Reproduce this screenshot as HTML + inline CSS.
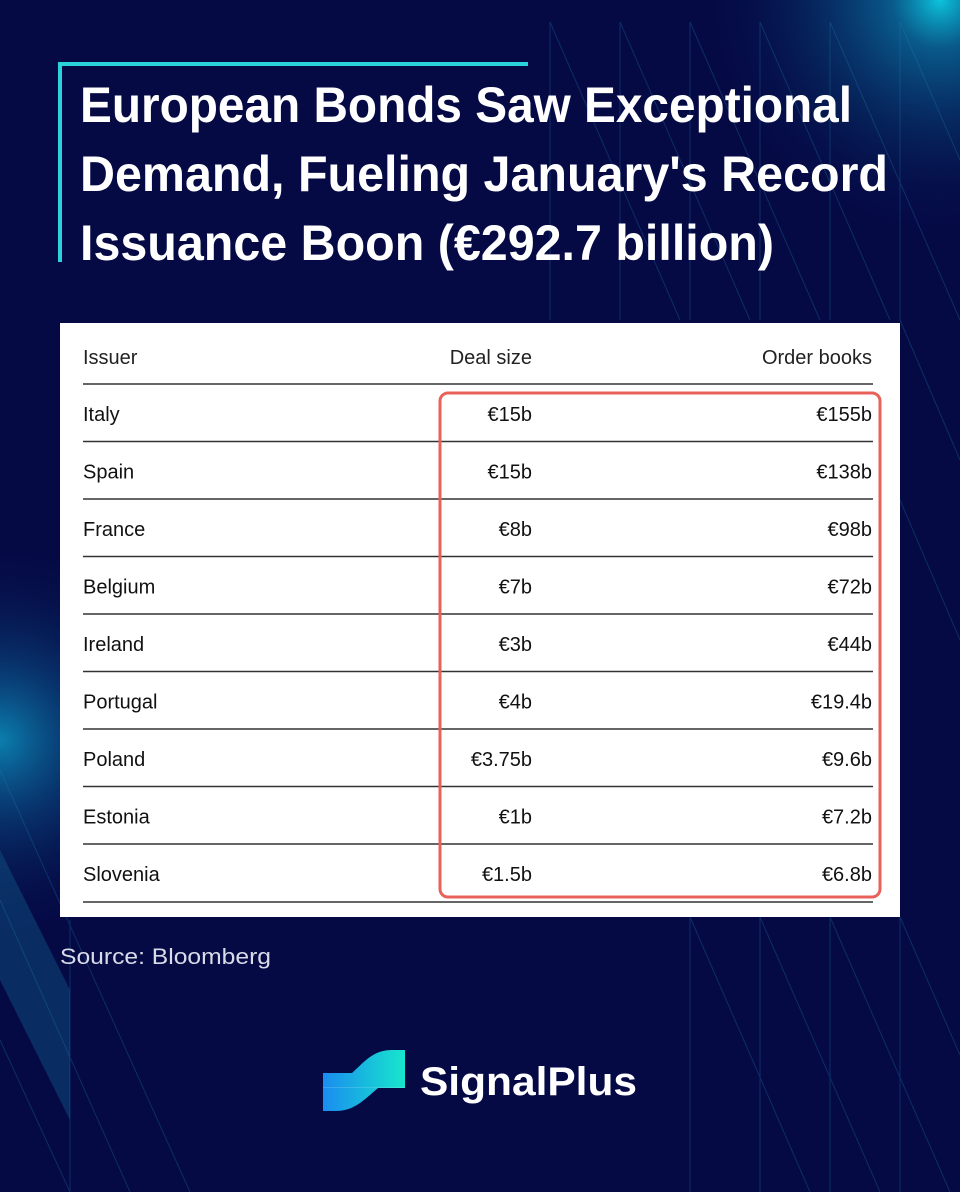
<!DOCTYPE html>
<html><head><meta charset="utf-8"><style>
html,body{margin:0;padding:0;}
body{width:960px;height:1192px;overflow:hidden;background:#050a45;position:relative;font-family:"Liberation Sans",sans-serif;}
svg{position:absolute;left:0;top:0;}
</style></head><body>
<svg width="960" height="1192" viewBox="0 0 960 1192">
<defs>
<radialGradient id="g1" cx="940" cy="0" r="240" gradientUnits="userSpaceOnUse">
<stop offset="0" stop-color="#0cc3dc"/><stop offset="0.2" stop-color="#0a6e9c" stop-opacity="0.8"/><stop offset="1" stop-color="#050a45" stop-opacity="0"/></radialGradient>
<radialGradient id="g2" cx="0" cy="740" r="200" gradientUnits="userSpaceOnUse">
<stop offset="0" stop-color="#0b7fae"/><stop offset="0.4" stop-color="#0a4a82" stop-opacity="0.6"/><stop offset="1" stop-color="#050a45" stop-opacity="0"/></radialGradient>
<linearGradient id="lg" x1="0" y1="0" x2="1" y2="0">
<stop offset="0" stop-color="#1a8cf0"/><stop offset="1" stop-color="#17e6cc"/></linearGradient>
</defs>
<rect width="960" height="1192" fill="#050a45"/>
<rect width="960" height="1192" fill="url(#g1)"/>
<rect width="960" height="1192" fill="url(#g2)"/>
<polygon points="0,850 70,990 70,1120 0,980" fill="#0d4f82" opacity="0.5"/>
<g stroke="#1f7fb0" stroke-width="1" opacity="0.3" fill="none">
<line x1="550" y1="22" x2="550" y2="320"/><line x1="550" y1="22" x2="680" y2="320"/>
<line x1="620" y1="22" x2="620" y2="320"/><line x1="620" y1="22" x2="750" y2="320"/>
<line x1="690" y1="22" x2="690" y2="320"/><line x1="690" y1="22" x2="820" y2="320"/>
<line x1="760" y1="22" x2="760" y2="320"/><line x1="760" y1="22" x2="890" y2="320"/>
<line x1="830" y1="22" x2="830" y2="320"/><line x1="830" y1="22" x2="960" y2="320"/>
<line x1="900" y1="22" x2="900" y2="320"/><line x1="900" y1="22" x2="960" y2="160"/>
<line x1="0" y1="770" x2="190" y2="1192"/><line x1="0" y1="900" x2="130" y2="1192"/>
<line x1="0" y1="1040" x2="70" y2="1192"/><line x1="70" y1="920" x2="70" y2="1192"/>
<line x1="690" y1="917" x2="690" y2="1192"/><line x1="760" y1="917" x2="760" y2="1192"/>
<line x1="830" y1="917" x2="830" y2="1192"/><line x1="900" y1="917" x2="900" y2="1192"/>
<line x1="690" y1="917" x2="810" y2="1192"/><line x1="760" y1="917" x2="880" y2="1192"/>
<line x1="830" y1="917" x2="950" y2="1192"/><line x1="900" y1="917" x2="960" y2="1055"/>
<line x1="900" y1="320" x2="960" y2="460"/><line x1="900" y1="500" x2="960" y2="640"/>
</g>
<rect x="58" y="62" width="470" height="4" fill="#2ad3dc"/>
<rect x="58" y="62" width="4" height="200" fill="#2ad3dc"/>
<g fill="#ffffff" font-family="Liberation Sans, sans-serif" font-weight="bold" font-size="50">
<text x="80" y="122" textLength="772" lengthAdjust="spacingAndGlyphs">European Bonds Saw Exceptional</text>
<text x="80" y="191" textLength="808" lengthAdjust="spacingAndGlyphs">Demand, Fueling January's Record</text>
<text x="80" y="260" textLength="694" lengthAdjust="spacingAndGlyphs">Issuance Boon (€292.7 billion)</text>
</g>
<rect x="60" y="323" width="840" height="594" fill="#ffffff"/>
<g font-family="Liberation Sans, sans-serif" font-size="20" fill="#222">
<text x="83" y="364">Issuer</text>
<text x="532" y="364" text-anchor="end">Deal size</text>
<text x="872" y="364" text-anchor="end">Order books</text>
</g>
<g stroke="#333" stroke-width="1.5">
<line x1="83" y1="384" x2="873" y2="384"/>
<line x1="83" y1="441.5" x2="873" y2="441.5"/>
<line x1="83" y1="499" x2="873" y2="499"/>
<line x1="83" y1="556.5" x2="873" y2="556.5"/>
<line x1="83" y1="614" x2="873" y2="614"/>
<line x1="83" y1="671.5" x2="873" y2="671.5"/>
<line x1="83" y1="729" x2="873" y2="729"/>
<line x1="83" y1="786.5" x2="873" y2="786.5"/>
<line x1="83" y1="844" x2="873" y2="844"/>
<line x1="83" y1="902" x2="873" y2="902"/>
</g>
<g font-family="Liberation Sans, sans-serif" font-size="20" fill="#111">
<text x="83" y="421">Italy</text><text x="532" y="421" text-anchor="end">€15b</text><text x="872" y="421" text-anchor="end">€155b</text>
<text x="83" y="478.5">Spain</text><text x="532" y="478.5" text-anchor="end">€15b</text><text x="872" y="478.5" text-anchor="end">€138b</text>
<text x="83" y="536">France</text><text x="532" y="536" text-anchor="end">€8b</text><text x="872" y="536" text-anchor="end">€98b</text>
<text x="83" y="593.5">Belgium</text><text x="532" y="593.5" text-anchor="end">€7b</text><text x="872" y="593.5" text-anchor="end">€72b</text>
<text x="83" y="651">Ireland</text><text x="532" y="651" text-anchor="end">€3b</text><text x="872" y="651" text-anchor="end">€44b</text>
<text x="83" y="708.5">Portugal</text><text x="532" y="708.5" text-anchor="end">€4b</text><text x="872" y="708.5" text-anchor="end">€19.4b</text>
<text x="83" y="766">Poland</text><text x="532" y="766" text-anchor="end">€3.75b</text><text x="872" y="766" text-anchor="end">€9.6b</text>
<text x="83" y="823.5">Estonia</text><text x="532" y="823.5" text-anchor="end">€1b</text><text x="872" y="823.5" text-anchor="end">€7.2b</text>
<text x="83" y="881">Slovenia</text><text x="532" y="881" text-anchor="end">€1.5b</text><text x="872" y="881" text-anchor="end">€6.8b</text>
</g>
<rect x="440" y="393" width="440" height="504" rx="8" fill="none" stroke="#e8625a" stroke-width="3"/>
<text x="60" y="964" font-family="Liberation Sans, sans-serif" font-size="22" fill="#d8dbe8" textLength="211" lengthAdjust="spacingAndGlyphs">Source: Bloomberg</text>
<path d="M323,1073 L352,1073 C366,1060 374,1050 392,1050 L405,1050 L405,1088 L378,1088 C364,1100 354,1111 336,1111 L323,1111 Z" fill="url(#lg)"/>
<path d="M323,1087 L405,1087 L405,1088 L323,1088 Z" fill="#ffffff" opacity="0.15"/>
<text x="420" y="1095" font-family="Liberation Sans, sans-serif" font-weight="bold" font-size="40" fill="#ffffff" textLength="217" lengthAdjust="spacingAndGlyphs">SignalPlus</text>
</svg>
</body></html>
